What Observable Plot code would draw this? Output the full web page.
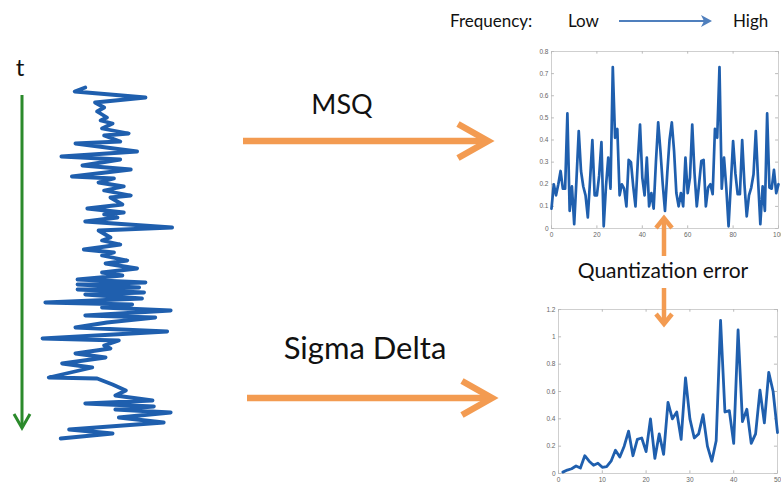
<!DOCTYPE html>
<html>
<head>
<meta charset="utf-8">
<script src="https://cdn.jsdelivr.net/npm/d3@7"></script>
<script src="https://cdn.jsdelivr.net/npm/@observablehq/plot@0.6"></script>
<style>
  html, body { margin: 0; padding: 0; background: #fff; }
  #wrap { position: relative; width: 781px; height: 489px; overflow: hidden; background: #fff; font-family: Lato, "Open Sans", sans-serif; }
  .abs { position: absolute; }
  .abs svg { overflow: visible; }
</style>
</head>
<body>
<div id="wrap"></div>
<script>
// ---------- DATA ----------
// MSQ quantization error (top-right panel), sample index 0..100
const msqIndex = d3.range(0, 101);
const msqError = [
  0.09, 0.20, 0.15, 0.20, 0.26, 0.18, 0.18, 0.52, 0.08, 0.19,
  0.02, 0.22, 0.44, 0.26, 0.19, 0.15, 0.05, 0.22, 0.40, 0.15,
  0.15, 0.24, 0.39, 0.01, 0.19, 0.32, 0.18, 0.73, 0.41, 0.45,
  0.15, 0.20, 0.18, 0.10, 0.31, 0.30, 0.19, 0.10, 0.30, 0.47,
  0.23, 0.15, 0.32, 0.10, 0.16, 0.09, 0.30, 0.48, 0.35, 0.20,
  0.08, 0.25, 0.40, 0.48, 0.35, 0.16, 0.10, 0.16, 0.10, 0.32,
  0.16, 0.23, 0.47, 0.25, 0.10, 0.20, 0.305, 0.31, 0.10, 0.185,
  0.20, 0.155, 0.45, 0.41, 0.73, 0.18, 0.32, 0.185, 0.01, 0.20,
  0.395, 0.25, 0.155, 0.155, 0.40, 0.20, 0.055, 0.15, 0.185, 0.245,
  0.44, 0.22, 0.02, 0.19, 0.08, 0.52, 0.185, 0.18, 0.265, 0.16,
  0.20
];
const msqXTicks = [0, 20, 40, 60, 80, 100];
const msqYTicks = [0, 0.1, 0.2, 0.3, 0.4, 0.5, 0.6, 0.7, 0.8];

// Sigma-Delta quantization error (bottom-right panel), sample index 1..50
const sdIndex = d3.range(1, 51);
const sdError = [
  0.01, 0.025, 0.035, 0.055, 0.04, 0.13, 0.09, 0.06, 0.075, 0.045,
  0.05, 0.09, 0.17, 0.12, 0.20, 0.31, 0.13, 0.25, 0.26, 0.16,
  0.40, 0.11, 0.29, 0.14, 0.52, 0.40, 0.45, 0.25, 0.70, 0.40,
  0.26, 0.29, 0.43, 0.20, 0.09, 0.24, 1.12, 0.45, 0.46, 0.22,
  1.05, 0.38, 0.47, 0.22, 0.29, 0.61, 0.37, 0.74, 0.60, 0.30
];
const sdXTicks = [0, 10, 20, 30, 40, 50];
const sdYTicks = [0, 0.2, 0.4, 0.6, 0.8, 1, 1.2];

// Input signal (left), time runs downward
const sigTime = [
  7, 11, 17, 22, 27, 31, 37, 40, 43, 48, 53, 55, 61, 63, 71, 76, 79, 85, 89, 96,
  98, 102, 106, 110, 115, 117, 124, 128, 132, 134, 137, 141, 147, 150, 157, 160, 164, 169, 172, 175,
  180, 183, 188, 192, 195, 199, 202, 204, 207, 209, 212, 214, 218, 222, 224, 227, 230, 235, 237, 242,
  247, 251, 258, 260, 265, 268, 273, 277, 283, 287, 297, 298, 304, 310, 315, 320, 323, 326, 329, 332,
  337, 342, 349, 353, 358
];
const sigAmp = [
  -0.29, -0.44, 0.57, -0.15, -0.02, -0.12, 0.02, -0.07, 0.10, -0.05, 0.33, -0.02, 0.21, -0.43, 0.45, -0.63, 0.21, -0.33, 0.36, -0.48,
  0.12, -0.10, 0.26, -0.02, 0.36, 0.07, 0.24, -0.26, 0.26, -0.02, 0.17, -0.29, 0.95, -0.10, 0.07, -0.05, 0.21, -0.31, 0.12, -0.05,
  0.31, 0.00, 0.45, -0.05, 0.24, -0.40, 0.57, -0.40, 0.48, -0.40, 0.55, -0.29, 0.52, -0.86, 0.38, -0.05, 0.93, -0.29, 0.71, 0.02,
  -0.43, 0.88, -0.90, 0.19, -0.02, 0.07, -0.43, 0.00, -0.62, -0.19, -0.81, -0.12, 0.10, 0.29, 0.14, 0.67, -0.29, 0.69, 0.14, 0.93,
  0.19, 0.83, -0.52, 0.10, -0.64
];

// Text
const labelTime = "t";
const labelMSQ = "MSQ";
const labelSD = "Sigma Delta";
const labelQE = "Quantization error";
const labelFreq = "Frequency:";
const labelLow = "Low";
const labelHigh = "High";

// ---------- STYLE / LAYOUT ----------
const BLUE = "#1f5fae";
const ORANGE = "#f39b51";
const GREEN = "#2b8a2b";
const ARROWBLUE = "#4f7fbd";
const tickFont = "Liberation Sans, Arial, sans-serif";

const wrap = document.getElementById("wrap");
function place(node, left, top) {
  const d = document.createElement("div");
  d.className = "abs";
  d.style.left = left + "px";
  d.style.top = top + "px";
  d.appendChild(node);
  wrap.appendChild(d);
}

// ---------- TOP PANEL (MSQ) ----------
const msqData = msqIndex.map((x, i) => ({x, y: msqError[i]}));
const topPlot = Plot.plot({
  width: 261, height: 200,
  marginLeft: 31, marginRight: 3, marginTop: 11, marginBottom: 12,
  x: {domain: [0, 100]},
  y: {domain: [0, 0.8]},
  style: {fontSize: "6.5px", fontFamily: tickFont, color: "#666", background: "transparent", overflow: "visible"},
  marks: [
    Plot.frame({stroke: "#cfcfcf"}),
    Plot.axisX({ticks: msqXTicks, tickSize: 0, tickPadding: 4, label: null, tickFormat: d => String(d), fill: "#666"}),
    Plot.axisY({ticks: msqYTicks, tickSize: 0, tickPadding: 3, label: null, tickFormat: d => String(d), fill: "#666"}),
    Plot.ruleX(msqXTicks, {x: d => d, y1: 0.8, y2: 0.788, stroke: "#bbb"}),
    Plot.ruleX(msqXTicks, {x: d => d, y1: 0, y2: 0.012, stroke: "#bbb"}),
    Plot.ruleY(msqYTicks, {y: d => d, x1: 0, x2: 1.3, stroke: "#bbb"}),
    Plot.ruleY(msqYTicks, {y: d => d, x1: 100, x2: 98.7, stroke: "#bbb"}),
    Plot.line(msqData, {x: "x", y: "y", stroke: BLUE, strokeWidth: 2.7, strokeLinejoin: "round"})
  ]
});
place(topPlot, 520, 40);

// ---------- BOTTOM PANEL (Sigma Delta) ----------
const sdData = sdIndex.map((x, i) => ({x, y: sdError[i]}));
const botPlot = Plot.plot({
  width: 251, height: 191,
  marginLeft: 28, marginRight: 4, marginTop: 11, marginBottom: 16,
  x: {domain: [0, 50]},
  y: {domain: [0, 1.2]},
  style: {fontSize: "6.5px", fontFamily: tickFont, color: "#666", background: "transparent", overflow: "visible"},
  marks: [
    Plot.frame({stroke: "#cfcfcf"}),
    Plot.axisX({ticks: sdXTicks, tickSize: 0, tickPadding: 4, label: null, tickFormat: d => String(d), fill: "#666"}),
    Plot.axisY({ticks: sdYTicks, tickSize: 0, tickPadding: 3, label: null, tickFormat: d => String(d), fill: "#666"}),
    Plot.ruleX(sdXTicks, {x: d => d, y1: 1.2, y2: 1.18, stroke: "#bbb"}),
    Plot.ruleX(sdXTicks, {x: d => d, y1: 0, y2: 0.02, stroke: "#bbb"}),
    Plot.ruleY(sdYTicks, {y: d => d, x1: 0, x2: 0.7, stroke: "#bbb"}),
    Plot.ruleY(sdYTicks, {y: d => d, x1: 50, x2: 49.3, stroke: "#bbb"}),
    Plot.line(sdData, {x: "x", y: "y", stroke: BLUE, strokeWidth: 2.8, strokeLinejoin: "round"})
  ]
});
place(botPlot, 530, 298);

// ---------- LEFT SIGNAL ----------
const sigData = sigTime.map((t, i) => ({t, a: sigAmp[i]}));
const sigPlot = Plot.plot({
  width: 145, height: 365,
  margin: 0,
  x: {domain: [-1, 1.07], axis: null},
  y: {domain: [0, 365], reverse: true, axis: null},
  style: {background: "transparent", overflow: "visible"},
  marks: [
    Plot.line(sigData, {x: "a", y: "t", stroke: BLUE, strokeWidth: 3.8, strokeLinejoin: "round", strokeLinecap: "round"})
  ]
});
place(sigPlot, 35, 80);

// ---------- ANNOTATIONS ----------
const svg = d3.select(wrap).append("svg")
  .attr("class", "abs")
  .style("left", "0px").style("top", "0px")
  .attr("width", 781).attr("height", 489)
  .style("pointer-events", "none");

function chevronArrow(x1, y1, x2, y2, color, width, headLen, headHalf) {
  const g = svg.append("g").attr("stroke", color).attr("stroke-width", width)
    .attr("fill", "none").attr("stroke-linecap", "butt").attr("stroke-linejoin", "miter");
  const ang = Math.atan2(y2 - y1, x2 - x1);
  const ux = Math.cos(ang), uy = Math.sin(ang);
  g.append("line").attr("x1", x1).attr("y1", y1).attr("x2", x2 - ux * width * 0.6).attr("y2", y2 - uy * width * 0.6);
  const bx = x2 - ux * headLen, by = y2 - uy * headLen;
  g.append("path").attr("d",
    `M${bx - uy * headHalf},${by + ux * headHalf} L${x2},${y2} L${bx + uy * headHalf},${by - ux * headHalf}`);
}

// green time arrow
chevronArrow(22, 95, 22, 428, GREEN, 3, 14, 8);
svg.append("text").attr("x", 20).attr("y", 76).attr("text-anchor", "middle")
  .attr("font-family", "Lato, sans-serif").attr("font-size", 24).attr("fill", "#111").text(labelTime);

// orange main arrows
chevronArrow(243, 141, 488, 141, ORANGE, 6.5, 30, 17);
chevronArrow(247, 398, 492, 398, ORANGE, 6.5, 30, 17);
svg.append("text").attr("x", 342).attr("y", 114).attr("text-anchor", "middle")
  .attr("font-family", "Lato, sans-serif").attr("font-size", 27).attr("fill", "#111").text(labelMSQ);
svg.append("text").attr("x", 365).attr("y", 359).attr("text-anchor", "middle")
  .attr("font-family", "Lato, sans-serif").attr("font-size", 31).attr("fill", "#111").text(labelSD);

// quantization error arrows + label
chevronArrow(664, 256, 664, 218, ORANGE, 4.5, 10, 8);
chevronArrow(664, 288, 664, 324, ORANGE, 4.5, 10, 8);
svg.append("text").attr("x", 663).attr("y", 278).attr("text-anchor", "middle")
  .attr("font-family", "Lato, sans-serif").attr("font-size", 21).attr("fill", "#111").text(labelQE);

// frequency header
svg.append("text").attr("x", 450).attr("y", 27)
  .attr("font-family", "Lato, sans-serif").attr("font-size", 17).attr("fill", "#111").text(labelFreq);
svg.append("text").attr("x", 568).attr("y", 27)
  .attr("font-family", "Lato, sans-serif").attr("font-size", 17).attr("fill", "#111").text(labelLow);
svg.append("text").attr("x", 733).attr("y", 27)
  .attr("font-family", "Lato, sans-serif").attr("font-size", 17).attr("fill", "#111").text(labelHigh);
svg.append("line").attr("x1", 619).attr("y1", 21).attr("x2", 704).attr("y2", 21)
  .attr("stroke", ARROWBLUE).attr("stroke-width", 2);
svg.append("path").attr("d", "M701,15 L712,21 L701,27 L704,21 Z").attr("fill", ARROWBLUE);
</script>
</body>
</html>
